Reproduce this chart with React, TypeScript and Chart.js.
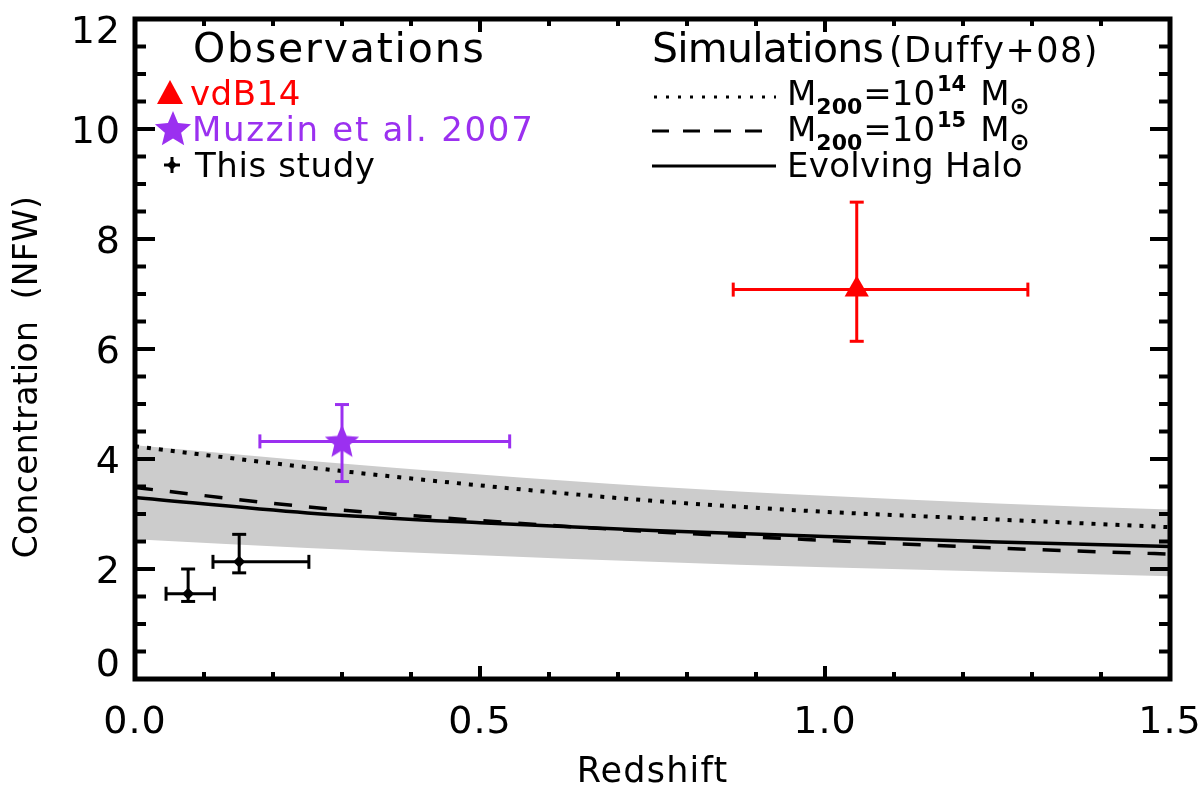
import React, { useEffect, useRef } from 'react';
import { Chart, registerables } from 'chart.js';

Chart.register(...registerables);

// ---------- Data ----------
const zGrid = [0, 0.25, 0.5, 0.75, 1.0, 1.25, 1.5];
const bandUpper = [4.25, 3.97, 3.72, 3.5, 3.33, 3.19, 3.08];
const bandLower = [2.54, 2.38, 2.25, 2.13, 2.03, 1.95, 1.87];
const duffy14 = [4.23, 3.85, 3.52, 3.24, 3.04, 2.9, 2.76];
const duffy15 = [3.48, 3.13, 2.88, 2.68, 2.52, 2.38, 2.27];
const evolvingHalo = [3.3, 3.02, 2.84, 2.7, 2.59, 2.49, 2.41];

const studyZ = [0.077, 0.151];
const studyC = [1.55, 2.13];
const studyZLo = [0.045, 0.113];
const studyZHi = [0.115, 0.252];
const studyCLo = [1.41, 1.93];
const studyCHi = [2.0, 2.63];

const muzzinZ = [0.3];
const muzzinC = [4.32];
const muzzinZLo = [0.181];
const muzzinZHi = [0.543];
const muzzinCLo = [3.59];
const muzzinCHi = [4.99];

const vdbZ = [1.046];
const vdbC = [7.08];
const vdbZLo = [0.867];
const vdbZHi = [1.294];
const vdbCLo = [6.14];
const vdbCHi = [8.67];

const xTickLabels = ['0.0', '0.5', '1.0', '1.5'];
const xMajorTicks = [0, 0.5, 1.0, 1.5];
const yMajorTicks = [0, 2, 4, 6, 8, 10, 12];
const xMinorTicks = Array.from({ length: 16 }, (_, i) => i / 10);
const yMinorTicks = Array.from({ length: 25 }, (_, i) => i / 2);

const RED = '#ff0000';
const PURPLE = '#9b30f0';
const BAND = '#cccccc';
const FONT = '"DejaVu Sans", sans-serif';

function drawStarPath(ctx: CanvasRenderingContext2D, cx: number, cy: number, R: number, r: number) {
  ctx.beginPath();
  for (let i = 0; i < 10; i++) {
    const a = -Math.PI / 2 + (i * Math.PI) / 5;
    const rad = i % 2 === 0 ? R : r;
    ctx.lineTo(cx + rad * Math.cos(a), cy + rad * Math.sin(a));
  }
  ctx.closePath();
}

function makeStarCanvas(R: number, color: string) {
  const c = document.createElement('canvas');
  c.width = Math.ceil(R * 2 + 2);
  c.height = Math.ceil(R * 2 + 2);
  const ctx = c.getContext('2d')!;
  drawStarPath(ctx, c.width / 2, c.height / 2 + 1, R, R * 0.45);
  ctx.fillStyle = color;
  ctx.fill();
  return c;
}

function errorBarSets(
  zs: number[], cs: number[], zlo: number[], zhi: number[], clo: number[], chi: number[],
  color: string, cap: number
) {
  const out: any[] = [];
  zs.forEach((z, i) => {
    out.push({
      type: 'line',
      data: [{ x: z, y: clo[i] }, { x: z, y: chi[i] }],
      borderColor: color,
      borderWidth: 3,
      pointStyle: 'line',
      pointRadius: cap,
      pointRotation: 0,
      pointBorderWidth: 3,
      pointBorderColor: color,
      fill: false,
      order: 1,
    });
    out.push({
      type: 'line',
      data: [{ x: zlo[i], y: cs[i] }, { x: zhi[i], y: cs[i] }],
      borderColor: color,
      borderWidth: 3,
      pointStyle: 'line',
      pointRadius: cap,
      pointRotation: 90,
      pointBorderWidth: 3,
      pointBorderColor: color,
      fill: false,
      order: 1,
    });
  });
  return out;
}

const decorPlugin = {
  id: 'decor',
  afterDraw(chart: any) {
    const { ctx, chartArea: a, scales } = chart;
    const xs = scales.x;
    const ys = scales.y;
    ctx.save();
    ctx.strokeStyle = '#000';
    ctx.fillStyle = '#000';
    const line = (x1: number, y1: number, x2: number, y2: number) => {
      ctx.beginPath();
      ctx.moveTo(x1, y1);
      ctx.lineTo(x2, y2);
      ctx.stroke();
    };
    const text = (s: string, x: number, y: number, spacing = 0) => {
      (ctx as any).letterSpacing = `${spacing}px`;
      ctx.fillText(s, x, y);
      (ctx as any).letterSpacing = '0px';
    };
    // ticks
    ctx.lineWidth = 4;
    ctx.lineCap = 'butt';
    xMinorTicks.forEach((v) => {
      const px = xs.getPixelForValue(v);
      const major = xMajorTicks.some((m) => Math.abs(m - v) < 1e-9);
      const len = major ? 13 : 7;
      line(px, a.bottom, px, a.bottom - len);
      line(px, a.top, px, a.top + len);
    });
    yMinorTicks.forEach((v) => {
      const py = ys.getPixelForValue(v);
      const major = yMajorTicks.some((m) => Math.abs(m - v) < 1e-9);
      const len = major ? 20 : 11;
      line(a.left, py, a.left + len, py);
      line(a.right, py, a.right - len, py);
    });
    // frame
    ctx.lineWidth = 5;
    ctx.strokeRect(a.left, a.top, a.right - a.left, a.bottom - a.top);

    // tick labels
    ctx.font = `38px ${FONT}`;
    ctx.textAlign = 'center';
    ctx.textBaseline = 'middle';
    xMajorTicks.forEach((v, i) => {
      text(xTickLabels[i], xs.getPixelForValue(v), a.bottom + 44, 1);
    });
    ctx.textAlign = 'right';
    yMajorTicks.forEach((v) => {
      let py = ys.getPixelForValue(v) + 4;
      py = Math.max(a.top + 14, Math.min(a.bottom - 13, py));
      text(String(v), a.left - 14, py, 1);
    });

    // axis titles
    ctx.font = `35px ${FONT}`;
    ctx.textAlign = 'center';
    ctx.textBaseline = 'alphabetic';
    text('Redshift', (a.left + a.right) / 2, 782, 1.2);
    ctx.save();
    ctx.translate(28, 377);
    ctx.rotate(-Math.PI / 2);
    ctx.textBaseline = 'middle';
    ctx.font = `33px ${FONT}`;
    text('Concentration  (NFW)', 0, 0, 0.3);
    ctx.restore();

    // Left legend
    ctx.textAlign = 'left';
    ctx.textBaseline = 'alphabetic';
    ctx.font = `41px ${FONT}`;
    ctx.fillStyle = '#000';
    text('Observations', 193, 62, 1.8);

    ctx.font = `34px ${FONT}`;
    ctx.fillStyle = RED;
    ctx.beginPath();
    ctx.moveTo(170, 80);
    ctx.lineTo(183, 104);
    ctx.lineTo(157, 104);
    ctx.closePath();
    ctx.fill();
    text('vdB14', 190, 105, 0.5);

    ctx.fillStyle = PURPLE;
    drawStarPath(ctx, 173, 130, 19, 19 * 0.45);
    ctx.fill();
    text('Muzzin et al. 2007', 192, 141, 1.7);

    ctx.fillStyle = '#000';
    ctx.strokeStyle = '#000';
    ctx.lineWidth = 3;
    line(164, 165, 180, 165);
    line(172, 157, 172, 173);
    ctx.beginPath();
    ctx.moveTo(172, 160);
    ctx.lineTo(177, 165);
    ctx.lineTo(172, 170);
    ctx.lineTo(167, 165);
    ctx.closePath();
    ctx.fill();
    text('This study', 195, 177, 0.6);

    // Right legend
    ctx.font = `41px ${FONT}`;
    text('Simulations', 652, 62, -0.8);
    (ctx as any).letterSpacing = '-0.8px';
    const simW = ctx.measureText('Simulations').width;
    (ctx as any).letterSpacing = '0px';
    ctx.font = `35px ${FONT}`;
    text('(Duffy+08)', 652 + simW + 6, 62, 1.5);

    // sample lines
    ctx.lineWidth = 3;
    ctx.setLineDash([3, 9]);
    line(654, 97, 776, 97);
    ctx.setLineDash([17, 14]);
    line(652, 131, 776, 131);
    ctx.setLineDash([]);
    line(652, 166, 776, 166);

    const massLabel = (y: number, exp: string) => {
      let x = 787;
      ctx.font = `34px ${FONT}`;
      ctx.fillText('M', x, y);
      x += ctx.measureText('M').width;
      ctx.font = `bold 22px ${FONT}`;
      ctx.fillText('200', x, y + 9);
      x += ctx.measureText('200').width + 1;
      ctx.font = `34px ${FONT}`;
      ctx.fillText('=10', x, y);
      x += ctx.measureText('=10').width + 2;
      ctx.font = `bold 21px ${FONT}`;
      ctx.fillText(exp, x, y - 14);
      x += ctx.measureText(exp).width + 14;
      ctx.font = `34px ${FONT}`;
      ctx.fillText('M', x, y);
      x += ctx.measureText('M').width;
      ctx.font = `bold 24px ${FONT}`;
      ctx.fillText('\u2299', x, y + 9);
    };
    massLabel(105, '14');
    massLabel(141, '15');
    ctx.font = `34px ${FONT}`;
    text('Evolving Halo', 787, 177, 0.3);

    ctx.restore();
  },
};

export default function App() {
  const ref = useRef<HTMLCanvasElement | null>(null);

  useEffect(() => {
    document.body.style.margin = '0';
    const canvas = ref.current;
    if (!canvas) return;

    const toXY = (xs: number[], ys: number[]) => xs.map((x, i) => ({ x, y: ys[i] }));
    const starImg = makeStarCanvas(18, PURPLE);

    const datasets: any[] = [
      {
        label: 'vdB14',
        data: toXY(vdbZ, vdbC),
        showLine: false,
        pointStyle: 'triangle',
        pointRadius: 14,
        backgroundColor: RED,
        borderColor: RED,
        pointBorderWidth: 0,
        order: 0,
      },
      {
        label: 'Muzzin et al. 2007',
        data: toXY(muzzinZ, muzzinC),
        showLine: false,
        pointStyle: starImg,
        pointRadius: 18,
        order: 0,
      },
      {
        label: 'This study',
        data: toXY(studyZ, studyC),
        showLine: false,
        pointStyle: 'rectRot',
        pointRadius: 6,
        backgroundColor: '#000',
        borderColor: '#000',
        pointBorderWidth: 0,
        order: 0,
      },
      ...errorBarSets(vdbZ, vdbC, vdbZLo, vdbZHi, vdbCLo, vdbCHi, RED, 7),
      ...errorBarSets(muzzinZ, muzzinC, muzzinZLo, muzzinZHi, muzzinCLo, muzzinCHi, PURPLE, 7),
      ...errorBarSets(studyZ, studyC, studyZLo, studyZHi, studyCLo, studyCHi, '#000', 7),
      {
        label: 'M200=1e14',
        data: toXY(zGrid, duffy14),
        borderColor: '#000',
        borderWidth: 4,
        borderDash: [4, 8],
        pointRadius: 0,
        cubicInterpolationMode: 'monotone',
        fill: false,
        order: 2,
      },
      {
        label: 'M200=1e15',
        data: toXY(zGrid, duffy15),
        borderColor: '#000',
        borderWidth: 3.5,
        borderDash: [18, 17],
        pointRadius: 0,
        cubicInterpolationMode: 'monotone',
        fill: false,
        order: 2,
      },
      {
        label: 'Evolving Halo',
        data: toXY(zGrid, evolvingHalo),
        borderColor: '#000',
        borderWidth: 3.5,
        pointRadius: 0,
        cubicInterpolationMode: 'monotone',
        fill: false,
        order: 2,
      },
    ];
    const upperIndex = datasets.length;
    datasets.push({
      label: 'band upper',
      data: toXY(zGrid, bandUpper),
      borderWidth: 0,
      borderColor: BAND,
      backgroundColor: BAND,
      pointRadius: 0,
      cubicInterpolationMode: 'monotone',
      fill: upperIndex + 1,
      order: 3,
    });
    datasets.push({
      label: 'band lower',
      data: toXY(zGrid, bandLower),
      borderWidth: 0,
      borderColor: BAND,
      pointRadius: 0,
      cubicInterpolationMode: 'monotone',
      fill: false,
      order: 3,
    });

    const chart = new Chart(canvas, {
      type: 'line',
      data: { datasets },
      options: {
        animation: false,
        responsive: false,
        devicePixelRatio: 1,
        layout: { padding: { left: 135, right: 30, top: 9, bottom: 114 } },
        plugins: { legend: { display: false }, tooltip: { enabled: false } },
        scales: {
          x: { type: 'linear', min: 0, max: 1.5, display: false },
          y: { type: 'linear', min: 0, max: 12, display: false },
        },
      } as any,
      plugins: [decorPlugin],
    });
    return () => chart.destroy();
  }, []);

  return (
    <div style={{ width: 1200, height: 793, background: '#fff' }}>
      <canvas ref={ref} width={1200} height={793} style={{ display: 'block', width: 1200, height: 793 }} />
    </div>
  );
}
